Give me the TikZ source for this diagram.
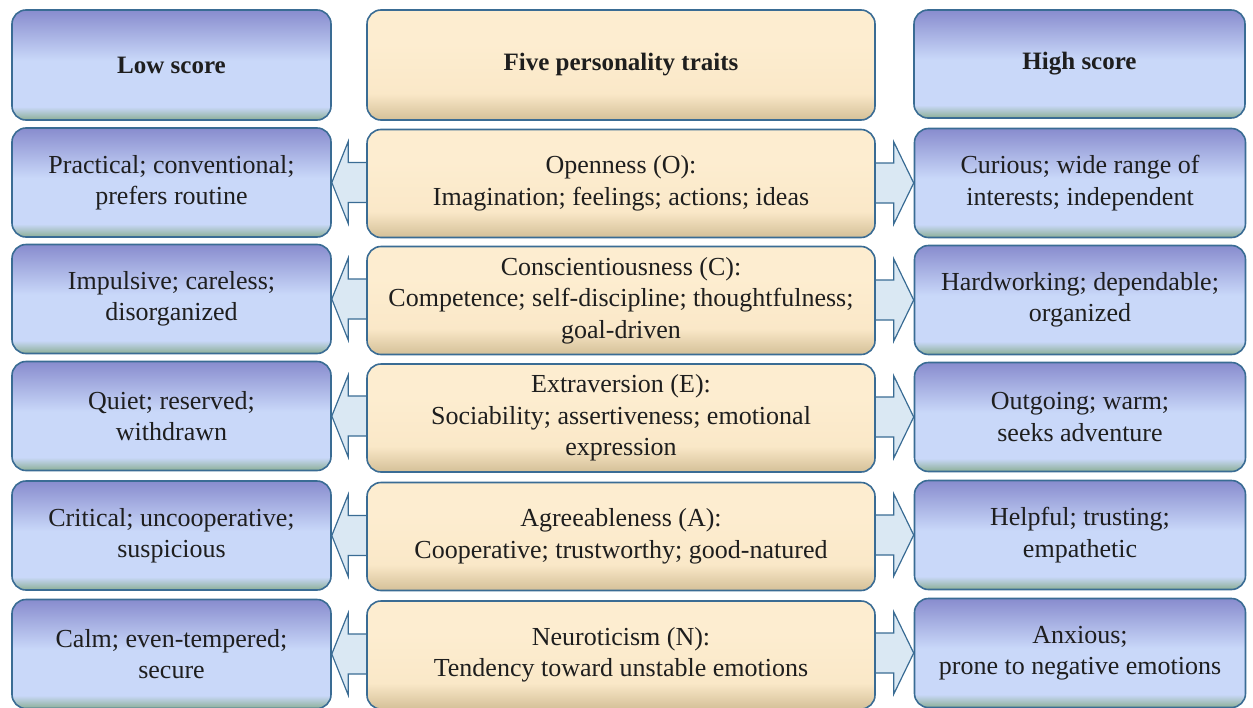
\documentclass[tikz,border=0pt]{standalone}
\usepackage{fontspec}
\setmainfont{Liberation Serif}
\usetikzlibrary{backgrounds,calc}
\definecolor{bpurple}{RGB}{136,140,206}
\definecolor{blight}{RGB}{201,216,249}
\definecolor{bgreen}{RGB}{140,175,150}
\definecolor{ctop}{RGB}{253,237,208}
\definecolor{cmid}{RGB}{250,232,200}
\definecolor{ctan}{RGB}{212,192,152}
\definecolor{edge}{RGB}{58,108,148}
\definecolor{arrowfill}{RGB}{218,232,243}
\definecolor{ink}{RGB}{30,30,30}
\pgfdeclareverticalshading{bluegrad}{100bp}{color(0bp)=(bgreen); color(25bp)=(bgreen); color(31bp)=(blight); color(52bp)=(blight); color(75bp)=(bpurple); color(100bp)=(bpurple)}
\pgfdeclareverticalshading{creamgrad}{100bp}{color(0bp)=(ctan); color(25bp)=(ctan); color(37bp)=(cmid); color(60bp)=(ctop); color(75bp)=(ctop); color(100bp)=(ctop)}
\tikzset{
  box/.style={draw=edge, line width=1.6pt, rounded corners=14pt, inner sep=0pt, align=center, text=ink, font=\fontsize{26}{31.5}\selectfont},
  bluebox/.style={box, shade, shading=bluegrad},
  creambox/.style={box, shade, shading=creamgrad},
  lbox/.style={bluebox, minimum width=319pt, minimum height=109pt},
  cbox/.style={creambox, minimum width=508pt, minimum height=108pt},
  rbox/.style={bluebox, minimum width=331pt, minimum height=109pt},
  head/.style={font=\fontsize{25}{30}\selectfont\bfseries},
  fatarrow/.style={draw=edge, line width=1.2pt, fill=arrowfill, line join=miter}
}
\begin{document}
\begin{tikzpicture}[x=1pt,y=-1pt]
\useasboundingbox (0,0) rectangle (1253,707);
% headers
\node[lbox, head, minimum height=110pt] (lh) at (171.5,65) {Low score};
\node[cbox, head, minimum height=110pt] (ch) at (621,65) {Five personality traits};
\node[rbox, head, minimum height=108pt] (rh) at (1079.5,64) {High score};
% row 1
\node[lbox] (l1) at (171.5,182.5) {Practical; conventional;\\prefers routine};
\node[cbox] (c1) at (621,183.5) {Openness (O):\\Imagination; feelings; actions; ideas};
\node[rbox] (r1) at (1080,183) {Curious; wide range of\\interests; independent};
% row 2
\node[lbox] (l2) at (171.5,299) {Impulsive; careless;\\disorganized};
\node[cbox] (c2) at (621,300.5) {Conscientiousness (C):\\Competence; self-discipline; thoughtfulness;\\goal-driven};
\node[rbox] (r2) at (1080,300) {Hardworking; dependable;\\organized};
% row 3
\node[lbox] (l3) at (171.5,416) {Quiet; reserved;\\withdrawn};
\node[cbox] (c3) at (621,418) {Extraversion (E):\\Sociability; assertiveness; emotional\\expression};
\node[rbox] (r3) at (1080,417) {Outgoing; warm;\\seeks adventure};
% row 4
\node[lbox] (l4) at (171.5,535.5) {Critical; uncooperative;\\suspicious};
\node[cbox] (c4) at (621,536.5) {Agreeableness (A):\\Cooperative; trustworthy; good-natured};
\node[rbox] (r4) at (1080,535) {Helpful; trusting;\\empathetic};
% row 5
\node[lbox] (l5) at (171.5,654) {Calm; even-tempered;\\secure};
\node[cbox] (c5) at (621,655) {Neuroticism (N):\\Tendency toward unstable emotions};
\node[rbox] (r5) at (1080,653) {Anxious;\\prone to negative emotions};
% arrows
\begin{scope}[on background layer]
\foreach \i in {1,...,5}{
  \draw[fatarrow] ($(c\i.west |- l\i.east)+(4,-20)$) -- ($(c\i.west |- l\i.east)+(-18,-20)$)
     -- ($(c\i.west |- l\i.east)+(-18,-41)$) -- (l\i.east)
     -- ($(c\i.west |- l\i.east)+(-18,41)$) -- ($(c\i.west |- l\i.east)+(-18,20)$)
     -- ($(c\i.west |- l\i.east)+(4,20)$);
  \draw[fatarrow] ($(c\i.east |- r\i.west)+(-4,-20)$) -- ($(c\i.east |- r\i.west)+(18,-20)$)
     -- ($(c\i.east |- r\i.west)+(18,-41)$) -- (r\i.west)
     -- ($(c\i.east |- r\i.west)+(18,41)$) -- ($(c\i.east |- r\i.west)+(18,20)$)
     -- ($(c\i.east |- r\i.west)+(-4,20)$);
}
\end{scope}
\end{tikzpicture}
\end{document}
